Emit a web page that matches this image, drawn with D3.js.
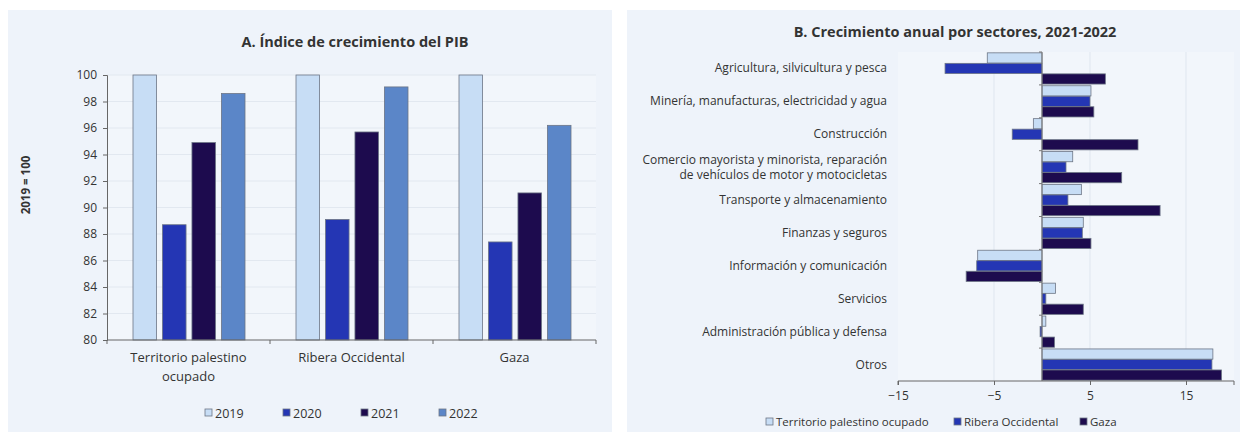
<!DOCTYPE html>
<html><head><meta charset="utf-8">
<script src="https://cdn.jsdelivr.net/npm/d3@7"></script>
<style>
body{margin:0;background:#fff;}
text{font-family:"Open Sans","Noto Sans",sans-serif;fill:#333;}
</style></head>
<body><svg id="c" width="1245" height="437"></svg>
<script>
// ---- Panel A data ----
const groups = ["Territorio palestino ocupado", "Ribera Occidental", "Gaza"];
const groupLabels = [["Territorio palestino", "ocupado"], ["Ribera Occidental"], ["Gaza"]];
const years = ["2019", "2020", "2021", "2022"];
const v2019 = [100, 100, 100];
const v2020 = [88.7, 89.1, 87.4];
const v2021 = [94.9, 95.7, 91.1];
const v2022 = [98.6, 99.1, 96.2];
const yTicksA = [80, 82, 84, 86, 88, 90, 92, 94, 96, 98, 100];

// ---- Panel B data ----
const sectors = [
  "Agricultura, silvicultura y pesca",
  "Minería, manufacturas, electricidad y agua",
  "Construcción",
  "Comercio mayorista y minorista, reparación|de vehículos de motor y motocicletas",
  "Transporte y almacenamiento",
  "Finanzas y seguros",
  "Información y comunicación",
  "Servicios",
  "Administración pública y defensa",
  "Otros"
];
const regions = ["Territorio palestino ocupado", "Ribera Occidental", "Gaza"];
const terr = [-5.7, 5.1, -0.9, 3.2, 4.1, 4.3, -6.7, 1.4, 0.4, 17.8];
const ribera = [-10.1, 5.0, -3.1, 2.5, 2.7, 4.2, -6.8, 0.4, -0.2, 17.7];
const gaza = [6.6, 5.4, 10.0, 8.3, 12.3, 5.1, -7.9, 4.3, 1.3, 18.7];
const xTicksB = [-15, -5, 5, 15];

const colA = {"2019":"#c7ddf5","2020":"#2436b4","2021":"#1d0b4e","2022":"#5b86c8"};
const colB = ["#c7ddf5","#2436b4","#1d0b4e"];
const strokeCol = "#6d7686";

const svg = d3.select("#c");
// panels
svg.append("rect").attr("x",8).attr("y",10).attr("width",604).attr("height",422).attr("fill","#eef3fa");
svg.append("rect").attr("x",627).attr("y",10).attr("width",613).attr("height",422).attr("fill","#eef3fa");

// ================= Panel A =================
const gA = svg.append("g");
const x0 = d3.scaleBand().domain(groups).range([107, 596]);
const x1 = d3.scaleBand().domain(years).range([26, 138]).paddingInner(0.2);
const yA = d3.scaleLinear().domain([80, 100]).range([340, 75]);

gA.append("rect").attr("x",107).attr("y",75).attr("width",489).attr("height",265).attr("fill","#f2f6fb");
gA.selectAll(".grid").data(yTicksA.slice(1)).join("line")
  .attr("x1",107).attr("x2",596).attr("y1",d=>yA(d)).attr("y2",d=>yA(d))
  .attr("stroke","#e2e8f0").attr("stroke-width",1);

const seriesA = {"2019":v2019,"2020":v2020,"2021":v2021,"2022":v2022};
groups.forEach((g,i)=>{
  years.forEach(yr=>{
    const v = seriesA[yr][i];
    gA.append("rect")
      .attr("x", x0(g)+x1(yr)).attr("width", x1.bandwidth())
      .attr("y", yA(v)).attr("height", yA(80)-yA(v))
      .attr("fill", colA[yr]).attr("stroke", strokeCol).attr("stroke-width", 0.8);
  });
});

const axYA = d3.axisLeft(yA).tickValues(yTicksA).tickSize(4).tickPadding(6).tickFormat(d3.format("d"));
gA.append("g").attr("transform","translate(107,0)").call(axYA)
  .call(s=>{s.select(".domain").attr("stroke","#666");s.selectAll(".tick line").attr("stroke","#666");
    s.selectAll("text").style("font-size","12px").attr("fill","#333");});
// x axis line with group-boundary ticks
gA.append("line").attr("x1",107).attr("x2",596).attr("y1",340).attr("y2",340).attr("stroke","#666");
const bounds = groups.map(g=>x0(g)).concat([x0.range()[1]]);
gA.selectAll(".bt").data(bounds).join("line")
  .attr("x1",d=>d).attr("x2",d=>d).attr("y1",340).attr("y2",344).attr("stroke","#666");
groups.forEach((g,i)=>{
  const t = gA.append("text").attr("x", x0(g)+x0.bandwidth()/2).attr("y",362)
    .attr("text-anchor","middle").style("font-size","13px");
  groupLabels[i].forEach((ln,j)=>t.append("tspan").attr("x",x0(g)+x0.bandwidth()/2).attr("dy", j?19:0).text(ln));
});
gA.append("text").attr("x",355).attr("y",47).attr("text-anchor","middle")
  .style("font-size","14.5px").style("font-weight","bold").text("A. Índice de crecimiento del PIB");
gA.append("text").attr("transform","translate(30,185) rotate(-90)").attr("text-anchor","middle")
  .style("font-size","11.5px").style("font-weight","bold").text("2019 = 100");
// legend A
const legA = gA.append("g");
years.forEach((yr,i)=>{
  const lx = 205 + i*78;
  legA.append("rect").attr("x",lx).attr("y",409).attr("width",7).attr("height",7)
    .attr("fill",colA[yr]).attr("stroke",strokeCol).attr("stroke-width",0.8);
  legA.append("text").attr("x",lx+10).attr("y",418).style("font-size","12.5px").text(yr);
});

// ================= Panel B =================
const gB = svg.append("g");
const xB = d3.scaleLinear().domain([-15, 20]).range([898, 1234]);
const yB = d3.scaleBand().domain(sectors).range([52, 381]);
const yIn = d3.scaleBand().domain(regions).range([0, yB.bandwidth()]).paddingOuter(0.08).paddingInner(0.03);

gB.append("rect").attr("x",898).attr("y",52).attr("width",336).attr("height",329).attr("fill","#f2f6fb");
gB.selectAll(".vg").data(xTicksB.slice(1)).join("line")
  .attr("x1",d=>xB(d)).attr("x2",d=>xB(d)).attr("y1",52).attr("y2",381)
  .attr("stroke","#dfe6ef").attr("stroke-width",1);

const seriesB = [terr, ribera, gaza];
sectors.forEach((s,i)=>{
  regions.forEach((r,k)=>{
    const v = seriesB[k][i];
    gB.append("rect")
      .attr("x", xB(Math.min(0,v))).attr("width", Math.abs(xB(v)-xB(0)))
      .attr("y", yB(s)+yIn(r)).attr("height", yIn.bandwidth())
      .attr("fill", colB[k]).attr("stroke", strokeCol).attr("stroke-width", 0.8);
  });
});
// zero line with band ticks
gB.append("line").attr("x1",xB(0)).attr("x2",xB(0)).attr("y1",52).attr("y2",381).attr("stroke","#777");
gB.selectAll(".zt").data(sectors).join("line")
  .attr("x1",xB(0)-3).attr("x2",xB(0)).attr("y1",d=>yB(d)).attr("y2",d=>yB(d)).attr("stroke","#777");
// bottom axis
const axB = d3.axisBottom(xB).tickValues(xTicksB).tickSize(4).tickPadding(6).tickFormat(d3.format("d"));
gB.append("g").attr("transform","translate(0,381)").call(axB)
  .call(s=>{s.select(".domain").attr("stroke","#666").attr("d","M898,4V0H1234V4");
    s.selectAll(".tick line").attr("stroke","#666");
    s.selectAll("text").style("font-size","12px").attr("fill","#333");});
// category labels
sectors.forEach(s=>{
  const lines = s.split("|");
  const cy = yB(s)+yB.bandwidth()/2;
  const t = gB.append("text").attr("text-anchor","end").style("font-size","12px")
    .attr("y", cy + 4 - (lines.length-1)*7.5);
  lines.forEach((ln,j)=>t.append("tspan").attr("x",887).attr("dy", j?15:0).text(ln));
});
gB.append("text").attr("x",955).attr("y",37).attr("text-anchor","middle")
  .style("font-size","14.5px").style("font-weight","bold").text("B. Crecimiento anual por sectores, 2021-2022");
// legend B
const legBx = [766, 954, 1080];
regions.forEach((r,k)=>{
  gB.append("rect").attr("x",legBx[k]).attr("y",418).attr("width",7).attr("height",7)
    .attr("fill",colB[k]).attr("stroke",strokeCol).attr("stroke-width",0.8);
  gB.append("text").attr("x",legBx[k]+10).attr("y",426).style("font-size","11.5px").text(r);
});
</script></body></html>
